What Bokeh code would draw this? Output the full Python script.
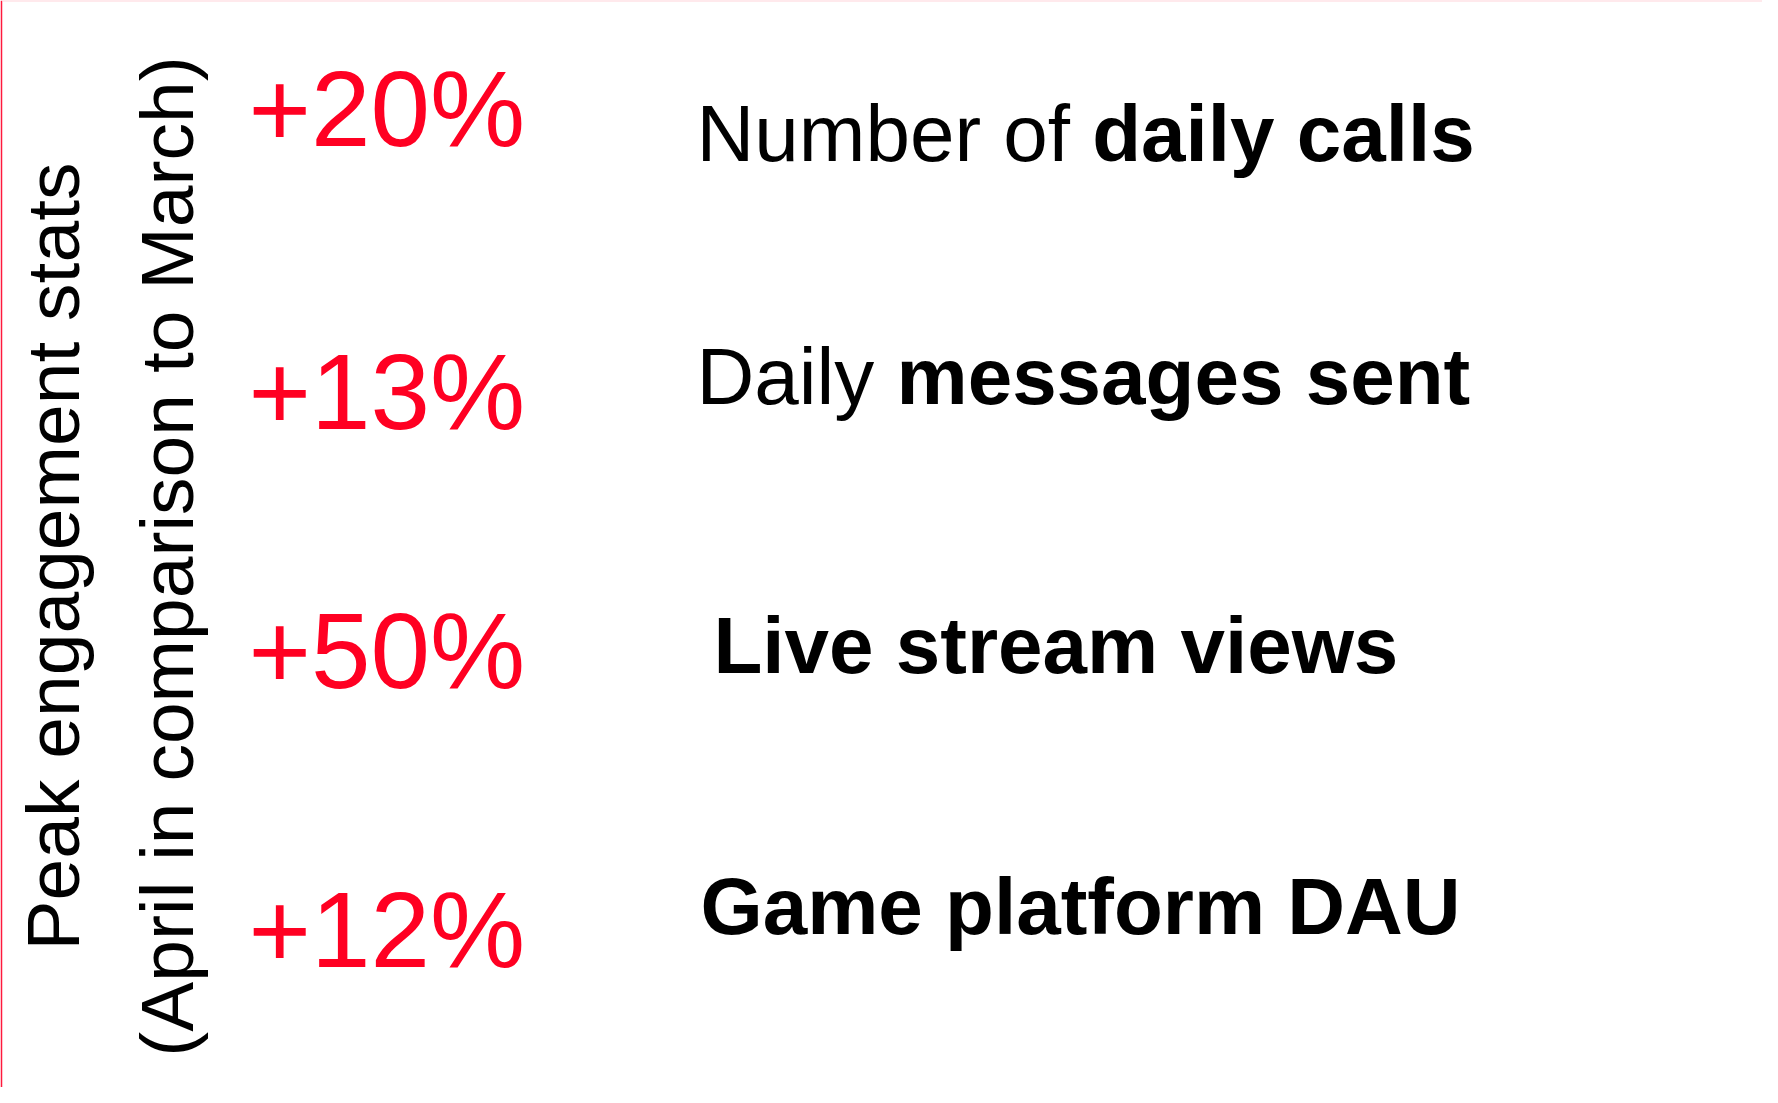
import math
from bokeh.plotting import figure
from bokeh.models import ColumnDataSource, Range1d, Span
from bokeh.core.properties import value
from bokeh.embed import file_html
from bokeh.resources import INLINE

# ---- data ----
changes = ["+20%", "+13%", "+50%", "+12%"]
label_regular = ["Number of ", "Daily ", "", ""]
label_bold = ["daily calls", "messages sent", "Live stream views", "Game platform DAU"]
title_lines = ["Peak engagement stats", "(April in comparison to March)"]

# ---- layout / style ----
W, H = 1762, 1087
FONT = "Liberation Sans"
RED = "#FF0022"
PCT_SIZE = 107
LBL_SIZE = 80
TITLE_SIZE = 75
BASELINE_FIX = 0.27  # em shift to put the alphabetic baseline where wanted

# Arial / Liberation Sans regular advance widths (per 1000 em) for measuring the regular prefix
ARIAL_REG = {"N": 722, "u": 556, "m": 833, "b": 556, "e": 556, "r": 333, " ": 278,
             "o": 556, "f": 278, "D": 722, "a": 556, "i": 222, "l": 222, "y": 500}

def text_width(s, size):
    return sum(ARIAL_REG.get(c, 556) for c in s) / 1000.0 * size

rows = list(range(len(changes)))
pct_x = 246
lbl_x = [694, 694, 711, 698]
pct_dy = [d - BASELINE_FIX * PCT_SIZE for d in [-3, 8, -6, 1]]
lbl_dy = [d - BASELINE_FIX * LBL_SIZE for d in [14, -15, -19, -30]]
title_x = [71 - BASELINE_FIX * TITLE_SIZE, 185 - BASELINE_FIX * TITLE_SIZE]

p = figure(width=W, height=H, output_backend="svg", toolbar_location=None,
           x_range=Range1d(0, W - 2), y_range=Range1d(3.475, -0.515),
           min_border_left=2, min_border_right=0, min_border_top=0, min_border_bottom=0)
p.axis.visible = False
p.grid.visible = False
p.outline_line_color = None
p.border_fill_color = "#FF1A3C"
p.background_fill_color = "white"

top_line = Span(location=-0.515, dimension="width", line_color="#FFD3DA", line_width=2)
p.add_layout(top_line)

pct_src = ColumnDataSource(dict(x=[pct_x] * len(rows), y=rows, t=changes, dy=pct_dy))
p.text(x="x", y="y", text="t", source=pct_src, y_offset="dy",
       text_font=value(FONT), text_font_size=f"{PCT_SIZE}px", text_color=RED,
       text_align="left", text_baseline="alphabetic")

reg_src = ColumnDataSource(dict(x=lbl_x, y=rows, t=label_regular, dy=lbl_dy))
p.text(x="x", y="y", text="t", source=reg_src, y_offset="dy",
       text_font=value(FONT), text_font_size=f"{LBL_SIZE}px", text_color="black",
       text_align="left", text_baseline="alphabetic")

bold_x = [x + text_width(r, LBL_SIZE) for x, r in zip(lbl_x, label_regular)]
bold_src = ColumnDataSource(dict(x=bold_x, y=rows, t=label_bold, dy=lbl_dy))
p.text(x="x", y="y", text="t", source=bold_src, y_offset="dy",
       text_font=value(FONT), text_font_size=f"{LBL_SIZE}px", text_color="black",
       text_font_style="bold", text_align="left", text_baseline="alphabetic")

title_src = ColumnDataSource(dict(x=title_x, y=[1.526, 1.526], t=title_lines))
p.text(x="x", y="y", text="t", source=title_src, angle=math.pi / 2,
       text_font=value(FONT), text_font_size=f"{TITLE_SIZE}px", text_color="black",
       text_align="center", text_baseline="alphabetic")

open("out.html", "w").write(file_html(p, INLINE))
